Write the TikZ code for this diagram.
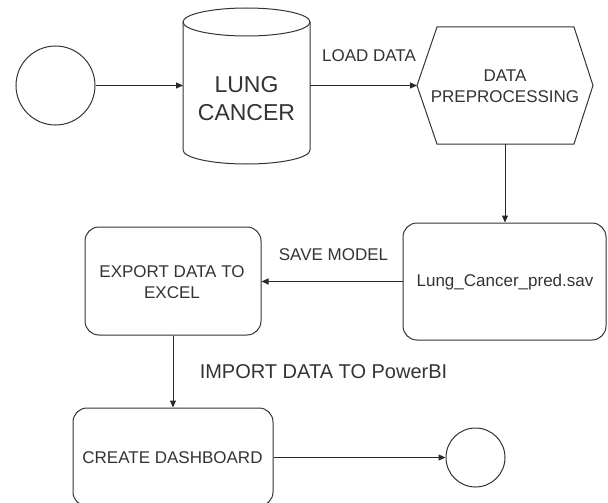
\documentclass[tikz,border=0pt]{standalone}
\usepackage{fontspec}
\setmainfont{Liberation Sans}
\usetikzlibrary{arrows.meta}
\definecolor{ink}{RGB}{51,51,51}
\definecolor{edge}{RGB}{40,40,40}
\tikzset{
  shp/.style={draw=ink, line width=1pt},
  hidden/.style={draw=none, inner sep=0pt, outer sep=0pt},
  rbox/.style={shp, rounded corners=14pt, inner sep=0pt},
  txt/.style={text=ink, font=\fontsize{17}{21}\selectfont, align=center, inner sep=0pt},
  conn/.style={draw=edge, line width=1pt, -{Triangle[length=7pt,width=6pt]}},
}
\begin{document}
\begin{tikzpicture}[x=1pt,y=-1pt]
\useasboundingbox (0,0) rectangle (608,503);
% start circle
\node[shp, circle, minimum size=79pt, inner sep=0pt] (start) at (55.5,85.5) {};
% cylinder
\node[hidden, minimum width=127pt, minimum height=156pt] (db) at (246.5,86) {};
\draw[shp] (183,22) -- (183,150) arc[start angle=180,end angle=360,x radius=63.5pt,y radius=14pt] -- (310,22);
\draw[shp] (246.5,22) ellipse[x radius=63.5pt,y radius=14pt];
\node[txt, font=\fontsize{23}{28}\selectfont] (dbt) at (246.5,99) {LUNG\\CANCER};
% hexagon
\node[hidden, minimum width=176pt, minimum height=117pt] (hex) at (505,85.5) {};
\draw[shp] (hex.west) -- (437,27) -- (574,27) -- (hex.east) -- (574,144) -- (437,144) -- cycle;
\node[txt] (hext) at (505,86.5) {DATA\\PREPROCESSING};
% model box
\node[rbox, minimum width=203pt, minimum height=117pt] (lung) at (504.5,281.5) {};
\node[txt] (lungt) at (505,281.7) {Lung\_Cancer\_pred.sav};
% export box
\node[rbox, minimum width=176pt, minimum height=108pt] (export) at (173,281) {};
\node[txt] (exportt) at (172,281.7) {EXPORT DATA TO\\EXCEL};
% dashboard box
\node[rbox, minimum width=200pt, minimum height=98pt] (create) at (173,457) {};
\node[txt] (createt) at (172.5,457.3) {CREATE DASHBOARD};
% end circle
\node[shp, circle, minimum size=59pt, inner sep=0pt] (endc) at (475.5,457.5) {};
% labels
\node[txt] (l1) at (369,56) {LOAD DATA};
\node[txt] (l2) at (333.5,255) {SAVE MODEL};
\node[txt, font=\fontsize{20}{24}\selectfont] (l3) at (323.5,371.7) {IMPORT DATA TO PowerBI};
% connectors
\draw[conn] (start.east) -- (db.west |- start.east);
\draw[conn] (db.east |- hex.west) -- (hex.west);
\draw[conn] (hex.south) -- (hex.south |- lung.north);
\draw[conn] (lung.west) -- (export.east |- lung.west);
\draw[conn] (export.south) -- (create.north);
\draw[conn] (create.east |- endc.west) -- (endc.west);
\end{tikzpicture}
\end{document}
